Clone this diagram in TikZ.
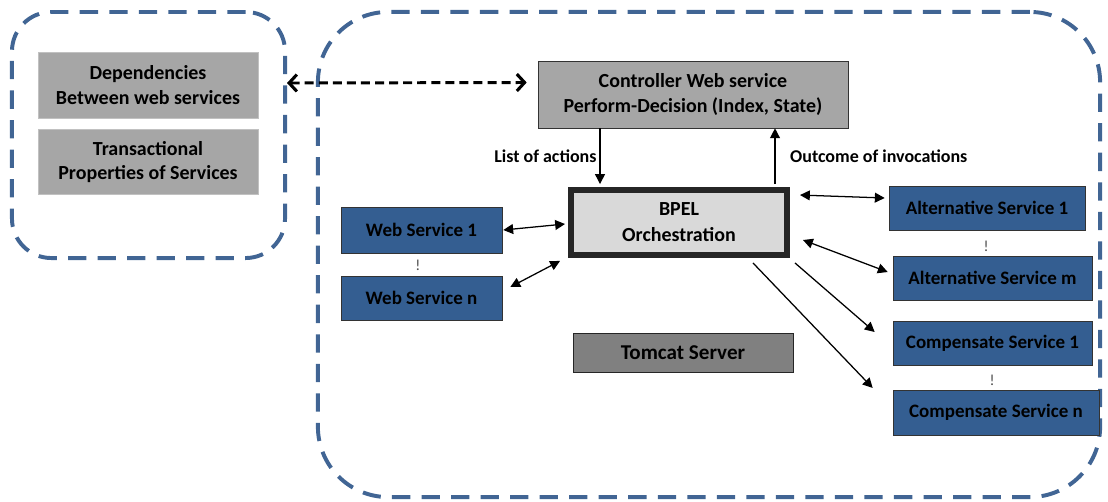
\documentclass[tikz,border=0pt]{standalone}
\usepackage{fontspec}
\setmainfont{Carlito}
\usepackage{tikz}
\usetikzlibrary{positioning}
\usetikzlibrary{calc}
\usetikzlibrary{arrows.meta}
\definecolor{frameblue}{RGB}{65,101,148}
\definecolor{svcblue}{RGB}{52,94,145}
\definecolor{infogray}{RGB}{166,166,166}
\definecolor{bpelgray}{RGB}{217,217,217}
\definecolor{servergray}{RGB}{128,128,128}

\begin{document}
\begin{tikzpicture}[x=0.025cm, y=-0.025cm,
	groupframe/.style = {draw=frameblue, line width=2.8pt, dash pattern=on 13pt off 8pt, rounded corners=28pt},
	infobox/.style = {fill=infogray, draw=infogray!70!white, align=center, minimum width=5.5cm, font=\fontsize{14.2}{17.5}\selectfont\bfseries},
	svcbox/.style = {draw=black!80, fill=svcblue, minimum height=1.1cm, font=\fontsize{13.5}{15}\selectfont\bfseries},
	smalltext/.style = {font=\fontsize{12.8}{14}\selectfont\bfseries},
	biarrow/.style = {line width=0.9pt, {Triangle[length=7pt,width=7pt]}-{Triangle[length=7pt,width=7pt]}},
	onearrow/.style = {line width=0.9pt, -{Triangle[length=7pt,width=7pt]}},
	dasharrow/.style = {line width=2.1pt, dash pattern=on 6.4pt off 3.6pt, {Straight Barb[length=5.5pt,width=12pt,line width=2.2pt]}-{Straight Barb[length=5.5pt,width=12pt,line width=2.2pt]}},
	dots/.style = {font=\fontsize{11}{12}\selectfont, text=black!70}
]
			\useasboundingbox (0,0) rectangle (1108,501);
			% the two dashed groups
			\node[groupframe, minimum width=6.825cm, minimum height=6.15cm] (inputs) at (148.5,135) {};
			\node[groupframe, rounded corners=50pt, minimum width=19.55cm, minimum height=12.125cm] (server) at (709,254.5) {};

			\node[infobox, minimum height=1.65cm] (deps) at (148,85) {Dependencies\\Between web services};
			\node[infobox, minimum height=1.625cm, below=0.275cm of deps] (props) {Transactional\\Properties  of Services};

			\node[draw=black!80, fill=infogray, minimum width=7.75cm, minimum height=1.675cm, align=center, font=\fontsize{14.2}{17.5}\selectfont\bfseries] (ctrl) at (693,94.5) {Controller  Web service\\Perform-Decision  (Index, State)};
			\node[draw=black!85, line width=4.2pt, fill=bpelgray, minimum width=5.4cm, minimum height=1.625cm, align=center, font=\fontsize{14.2}{18.5}\selectfont\bfseries] (bpel) at (679,222.5) {BPEL\\Orchestration};

			\node[svcbox, minimum width=4.025cm, minimum height=1.15cm] (ws1) at (421.5,230) {Web Service 1};
			\node[svcbox, minimum width=4.025cm] (wsn) at (421.5,298) {Web Service n};
			\node[svcbox, minimum width=4.9cm] (alt1) at (987,208) {Alternative Service 1};
			\node[svcbox, minimum width=4.975cm] (altm) at (992.5,278) {Alternative Service m};
			\node[svcbox, minimum width=4.975cm] (comp1) at (992.5,343) {Compensate Service 1};
			\node[svcbox, minimum width=5.15cm, minimum height=1.125cm] (compn) at (996,412.5) {Compensate Service n};
			\node[draw=black!85, fill=servergray, minimum width=5.5cm, minimum height=0.975cm, font=\fontsize{15}{17}\selectfont\bfseries] (tomcat) at (683,352.5) {Tomcat Server};

			\node[dots] (wsdots) at (418,265) {!};
			\node[dots] (altdots) at (986,246) {!};
			\node[dots] (compdots) at (992,380) {!};

			% connectors
			\draw[dasharrow] ($(inputs.east)+(0,-52)$) -- ($(ctrl.west)+(-11,-12)$);
			\draw[onearrow] ($(ctrl.south)+(-93,0)$) -- node[left, inner sep=2pt, smalltext] {List of actions} ($(bpel.north)+(-79,-3)$);
			\draw[onearrow] ($(bpel.north)+(96,-3)$) -- node[right, xshift=7pt, smalltext] {Outcome of invocations} ($(ctrl.south)+(82,0)$);
			\draw[biarrow] ($(ws1.east)+(1,0)$) -- ($(bpel.west)+(-3,1.5)$);
			\draw[biarrow] ($(wsn.east)+(8,-11)$) -- ($(bpel.south west)+(-8,3)$);
			\draw[biarrow] ($(bpel.north east)+(10,8)$) -- ($(alt1.west)+(-4,-10)$);
			\draw[biarrow] ($(bpel.east)+(13,17.5)$) -- ($(altm.west)+(-5,-6)$);
			\draw[onearrow] ($(bpel.south east)+(5,5)$) -- ($(comp1.west)+(-18,-11)$);
			\draw[onearrow] ($(bpel.south)+(74,5)$) -- ($(compn.west)+(-20,-24.5)$);
		\end{tikzpicture}
\end{document}
